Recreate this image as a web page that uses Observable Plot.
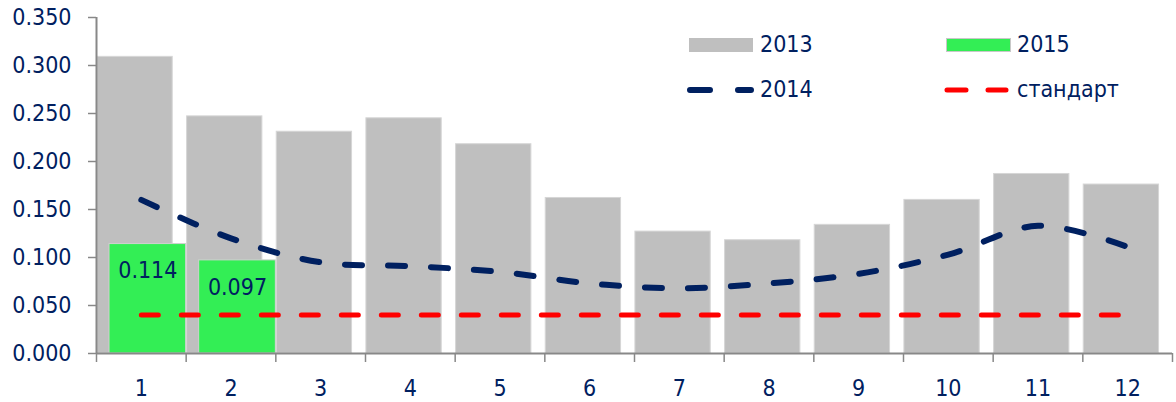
<!DOCTYPE html>
<html><head><meta charset="utf-8">
<script src="https://cdn.jsdelivr.net/npm/d3@7"></script>
<script src="https://cdn.jsdelivr.net/npm/@observablehq/plot@0.6"></script>
<style>
body{margin:0;background:#fff;}
#wrap{position:relative;width:1176px;height:402px;font-family:"DejaVu Sans Condensed","DejaVu Sans",sans-serif;font-stretch:condensed;color:#002060;}
.lg{position:absolute;font-size:23px;line-height:1;display:flex;align-items:center;}
.lg svg{display:block;}
</style></head>
<body><div id="wrap"></div>
<script>
const months = [1,2,3,4,5,6,7,8,9,10,11,12];
const v2013 = [0.309,0.247,0.231,0.245,0.218,0.162,0.127,0.118,0.134,0.160,0.187,0.176];
const v2014 = [0.160,0.120,0.095,0.091,0.085,0.073,0.068,0.073,0.083,0.103,0.133,0.111];
const months2015 = [1,2];
const v2015 = [0.114,0.097];
const standardValue = 0.040;
const yTicks = [0,0.05,0.1,0.15,0.2,0.25,0.3,0.35];
const boundaries = months.map(m => m - 0.5).concat([12.5]);

const d2013 = months.map((m,i)=>({m, v:v2013[i]}));
const d2014 = months.map((m,i)=>({m, v:v2014[i]}));
const d2015 = months2015.map((m,i)=>({m, v:v2015[i]}));
const dStd = months.map(m=>({m, v:standardValue}));

const font = '"DejaVu Sans Condensed","DejaVu Sans",sans-serif';
const chart = Plot.plot({
  width:1176, height:402,
  marginLeft:96, marginRight:4, marginTop:17, marginBottom:49,
  x:{type:"linear", domain:[0.5,12.5]},
  y:{domain:[0,0.35]},
  style:{fontFamily:font, fontSize:"23px", color:"#002060", background:"white", fontStretch:"condensed"},
  marks:[
    Plot.rect(d2013,{x1:d=>d.m-0.5+0.01, x2:d=>d.m-0.5+0.85, y1:0, y2:"v", fill:"#bfbfbf", stroke:"#d6d6d6", strokeWidth:1}),
    Plot.rect(d2015,{x1:d=>d.m-0.5+0.145, x2:d=>d.m+0.5, y1:0, y2:"v", fill:"#33ee55", stroke:"#d0d0d0", strokeWidth:1}),
    Plot.line(d2014,{x:"m", y:"v", curve:"catmull-rom", stroke:"#002060", strokeWidth:6, strokeDasharray:"17,26", strokeLinecap:"round"}),
    Plot.line(dStd,{x:"m", y:"v", stroke:"#ff0000", strokeWidth:5, strokeDasharray:"17,23", strokeLinecap:"round"}),
    Plot.text(d2015,{x:d=>d.m+0.0725, y:"v", text:d=>d3.format(".3f")(d.v), dy:27, fill:"#002060", fontSize:23}),
    Plot.ruleY([0],{stroke:"#888", strokeWidth:2}),
    Plot.ruleX([0.5],{stroke:"#888", strokeWidth:2}),
    Plot.axisY({ticks:yTicks, tickFormat:d3.format(".3f"), tickSize:8, tickPadding:17, stroke:"#888", strokeWidth:1.5, fill:"#002060", label:null}),
    Plot.axisX({ticks:months, tickFormat:d=>String(d), tickSize:0, tickPadding:26, fill:"#002060", label:null}),
    Plot.axisX({ticks:boundaries, tickFormat:()=>"", tickSize:9, stroke:"#888", strokeWidth:1.5, label:null})
  ]
});
const wrap = document.getElementById("wrap");
wrap.appendChild(chart);

function legendItem(left, top, swatch, label){
  const d = document.createElement("div");
  d.className = "lg";
  d.style.left = left+"px"; d.style.top = top+"px";
  d.innerHTML = swatch + `<span style="margin-left:6px">${label}</span>`;
  wrap.appendChild(d);
}
const labels = ["2013","2014","2015","стандарт"];
legendItem(689, 33, `<svg width="65" height="22"><rect x="0" y="4" width="64" height="14" fill="#bfbfbf"/></svg>`, labels[0]);
legendItem(946, 33, `<svg width="65" height="22"><rect x="0.5" y="4.5" width="64" height="13" fill="#33ee55" stroke="#c8c8c8"/></svg>`, labels[2]);
legendItem(684, 78, `<svg width="70" height="22"><line x1="6" y1="11" x2="67" y2="11" stroke="#002060" stroke-width="6" stroke-linecap="round" stroke-dasharray="20,28"/></svg>`, labels[1]);
legendItem(941, 78, `<svg width="70" height="22"><line x1="6" y1="11" x2="65" y2="11" stroke="#ff0000" stroke-width="5" stroke-linecap="round" stroke-dasharray="19,22"/></svg>`, labels[3]);
</script></body></html>
